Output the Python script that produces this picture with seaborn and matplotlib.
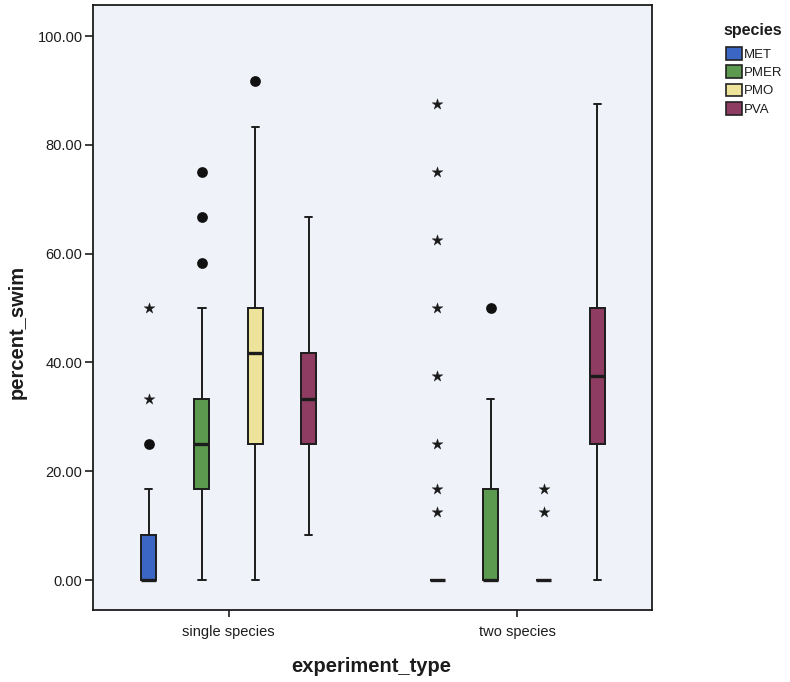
import numpy as np
import pandas as pd
import matplotlib
matplotlib.use("Agg")
import matplotlib.pyplot as plt
import seaborn as sns
from matplotlib.patches import Patch
from matplotlib.ticker import FormatStrFormatter

# ---------------- data ----------------
experiments = ["single species", "two species"]
species = ["MET", "PMER", "PMO", "PVA"]
colors = ["#3b66c4", "#5c9a50", "#ede39a", "#8e3c62"]

box_experiment = ["single species"] * 4 + ["two species"] * 4
box_species = ["MET", "PMER", "PMO", "PVA"] * 2
whisker_low = [0.0, 0.0, 0.0, 8.33, 0.0, 0.0, 0.0, 0.0]
q1 = [0.0, 16.67, 25.0, 25.0, 0.0, 0.0, 0.0, 25.0]
median = [0.0, 25.0, 41.67, 33.33, 0.0, 0.0, 0.0, 37.5]
q3 = [8.33, 33.33, 50.0, 41.67, 0.0, 16.67, 0.0, 50.0]
whisker_high = [16.67, 50.0, 83.33, 66.67, 0.0, 33.33, 0.0, 87.5]

# outliers (circles)
outlier_experiment = ["single species", "single species", "single species",
                      "single species", "single species", "two species"]
outlier_species = ["MET", "PMER", "PMER", "PMER", "PMO", "PMER"]
outlier_value = [25.0, 58.33, 66.67, 75.0, 91.67, 50.0]

# extreme values (stars)
extreme_experiment = ["single species"] * 2 + ["two species"] * 10
extreme_species = ["MET", "MET"] + ["MET"] * 8 + ["PMO", "PMO"]
extreme_value = [33.33, 50.0,
                 12.5, 16.67, 25.0, 37.5, 50.0, 62.5, 75.0, 87.5,
                 12.5, 16.67]

# ---------------- build long table for seaborn ----------------
rows = []
for e, s, a, b, c, d, f in zip(box_experiment, box_species, whisker_low,
                               q1, median, q3, whisker_high):
    for v in (a, b, c, d, f):
        rows.append({"experiment_type": e, "species": s, "percent_swim": v})
df = pd.DataFrame(rows)

sns.set_style("ticks")
plt.rcParams["font.family"] = ["Liberation Sans", "DejaVu Sans"]

fig = plt.figure(figsize=(7.9, 6.82), dpi=100)
fig.patch.set_facecolor("white")
ax = fig.add_axes([93 / 790, 1 - 610 / 682, (652 - 93) / 790, (610 - 5) / 682])
ax.set_facecolor("#f0f2f9")

group_width = 0.74
gap = 0.72
sns.boxplot(data=df, x="experiment_type", y="percent_swim", hue="species",
            order=experiments, hue_order=species, palette=colors,
            width=group_width, gap=gap, whis=(0, 100), showfliers=False,
            saturation=1, linecolor="#1c1c1c", linewidth=1.4,
            medianprops={"linewidth": 2.4, "color": "#1c1c1c"},
            legend=False, ax=ax)

# dodge offsets matching seaborn's layout
each = group_width / len(species)
offsets = {s: each * i + each / 2 - group_width / 2 for i, s in enumerate(species)}
xpos = {e: i for i, e in enumerate(experiments)}

ox = [xpos[e] + offsets[s] for e, s in zip(outlier_experiment, outlier_species)]
ax.scatter(ox, outlier_value, s=60, marker="o", color="#111111", zorder=5,
           linewidths=0)
ex = [xpos[e] + offsets[s] for e, s in zip(extreme_experiment, extreme_species)]
ax.scatter(ex, extreme_value, s=70, marker="*", color="#1a1a1a", zorder=5,
           linewidths=0.2, edgecolors="#1a1a1a")

ax.set_xlim(-0.47, 1.467)
ax.set_ylim(-5.5, 105.7)
ax.set_yticks([0, 20, 40, 60, 80, 100])
ax.yaxis.set_major_formatter(FormatStrFormatter("%.2f"))

for sp in ax.spines.values():
    sp.set_visible(True)
    sp.set_color("#1c1c1c")
    sp.set_linewidth(1.3)

ax.tick_params(axis="y", length=6, width=1.2, color="#1c1c1c", pad=1.5,
               labelsize=10.5, labelcolor="#1c1c1c")
ax.tick_params(axis="x", length=5, width=1.2, color="#1c1c1c", pad=6,
               labelsize=10.5, labelcolor="#1c1c1c")

ax.set_xlabel("experiment_type", fontsize=14.5, fontweight="bold",
              color="#1c1c1c")
ax.set_ylabel("percent_swim", fontsize=14.5, fontweight="bold",
              color="#1c1c1c")
ax.xaxis.set_label_coords(0.497, -0.078)
ax.yaxis.set_label_coords(-0.118, 0.46)

handles = [Patch(facecolor=c, edgecolor="#222222", linewidth=1.2, label=s)
           for s, c in zip(species, colors)]
fig.text(753 / 790, 1 - 31 / 682, "species", ha="center", va="center",
         fontsize=11.5, fontweight="bold", color="#1c1c1c")
leg = fig.legend(handles=handles, loc="upper left",
                 bbox_to_anchor=(726 / 790, 1 - 47 / 682), frameon=False,
                 fontsize=9.5, handlelength=1.2, handleheight=1.1,
                 handletextpad=0.15, labelspacing=0.34, borderpad=0,
                 borderaxespad=0)
for t in leg.get_texts():
    t.set_color("#1c1c1c")

fig.savefig("out.png", dpi=100)
